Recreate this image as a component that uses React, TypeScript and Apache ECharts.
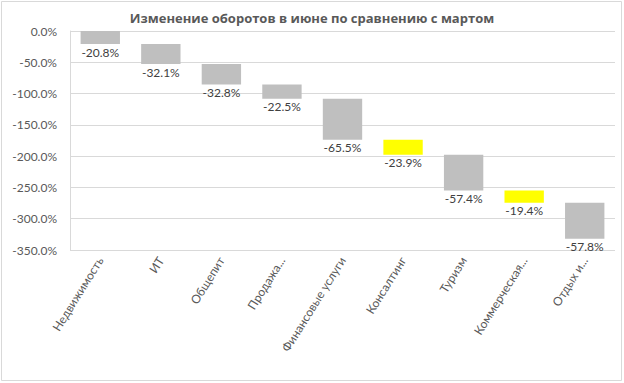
import React, { useEffect, useRef } from "react";
import * as echarts from "echarts";

const categories = [
  "Недвижимость",
  "ИТ",
  "Общепит",
  "Продажа...",
  "Финансовые услуги",
  "Консалтинг",
  "Туризм",
  "Коммерческая...",
  "Отдых и...",
];
const changes = [-20.8, -32.1, -32.8, -22.5, -65.5, -23.9, -57.4, -19.4, -57.8];
const highlighted = [false, false, false, false, false, true, false, true, false];
const yTicks = { min: -350, max: 0, interval: 50 };

const FONT = "Lato, 'Open Sans', sans-serif";

export default function App() {
  const ref = useRef<HTMLDivElement>(null);
  useEffect(() => {
    if (!ref.current) return;
    const chart = echarts.init(ref.current, undefined, { renderer: "svg" });
    const bases: number[] = [];
    let acc = 0;
    changes.forEach((v) => {
      bases.push(+acc.toFixed(1));
      acc += v;
    });
    chart.setOption({
      animation: false,
      textStyle: { fontFamily: FONT },
      title: {
        text: "Изменение оборотов в июне по сравнению с мартом",
        left: "center",
        top: 6,
        textStyle: { fontSize: 13, fontWeight: "bold", color: "#595959", fontFamily: "'Open Sans', sans-serif" },
      },
      graphic: [
        {
          type: "rect",
          shape: { x: 1.5, y: 1.5, width: 620, height: 379 },
          style: { fill: "none", stroke: "#D9D9D9", lineWidth: 1 },
          silent: true,
        },
      ],
      grid: { left: 70, right: 9, top: 31, bottom: 133, containLabel: false },
      xAxis: {
        type: "category",
        data: categories,
        axisLine: { show: false },
        axisTick: { show: false },
        axisLabel: {
          rotate: 58,
          color: "#595959",
          fontSize: 12,
          fontFamily: FONT,
          margin: 8,
          interval: 0,
        },
        splitLine: { show: false },
      },
      yAxis: {
        type: "value",
        min: yTicks.min,
        max: yTicks.max,
        interval: yTicks.interval,
        axisLine: { show: true, lineStyle: { color: "#D9D9D9" } },
        axisTick: { show: false },
        axisLabel: {
          color: "#595959",
          fontSize: 12,
          fontFamily: FONT,
          margin: 13,
          formatter: (v: number) => v.toFixed(1) + "%",
        },
        splitLine: { lineStyle: { color: "#D9D9D9", width: 1 } },
      },
      series: [
        {
          type: "bar",
          stack: "w",
          barCategoryGap: "35%",
          itemStyle: { color: "transparent" },
          data: bases,
          silent: true,
        },
        {
          type: "bar",
          stack: "w",
          barCategoryGap: "35%",
          data: changes.map((v, i) => ({
            value: v,
            itemStyle: { color: highlighted[i] ? "#FFFF00" : "#BFBFBF" },
          })),
          label: {
            show: true,
            position: "bottom",
            distance: 2,
            color: "#404040",
            fontSize: 12,
            fontFamily: FONT,
            formatter: (p: any) => p.value.toFixed(1) + "%",
          },
        },
      ],
    });
    return () => chart.dispose();
  }, []);
  return (
    <div
      ref={ref}
      style={{ position: "fixed", left: 0, top: 0, width: 624, height: 383, background: "#fff" }}
    />
  );
}
